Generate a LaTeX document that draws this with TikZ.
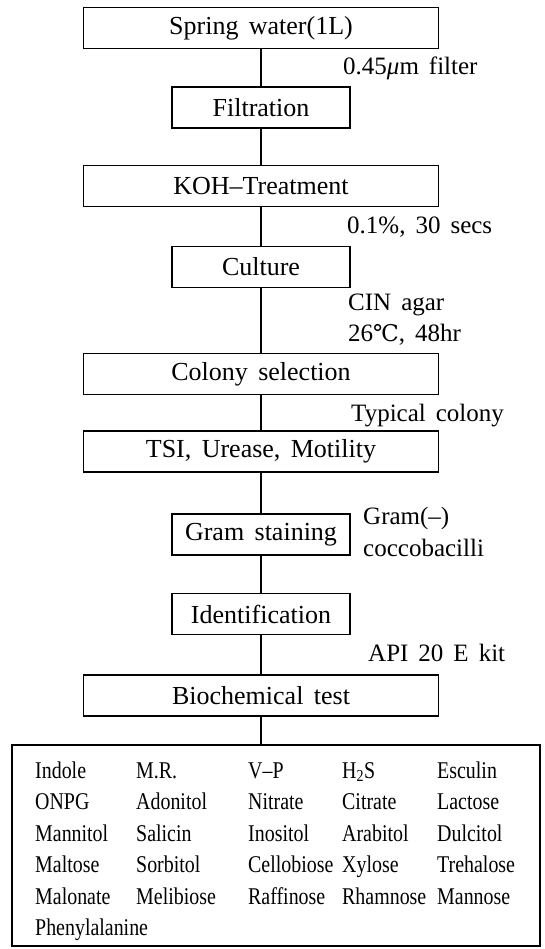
\documentclass[tikz,border=0pt]{standalone}
\usepackage{fontspec}
\setmainfont[WordSpace=1.6]{Liberation Serif}
\newfontfamily\condfont[FakeStretch=0.83]{Liberation Serif}
\newfontfamily\symfont{DejaVu Serif}
\newcommand\flowfont{\fontsize{26}{30}\selectfont}
\newcommand\sidefont{\fontsize{25}{29}\selectfont}
\newcommand\listfont{\condfont\fontsize{24}{28}\selectfont}

\tikzset{
  stepbox/.style={draw, line width=1.2pt, minimum height=41pt, inner sep=0pt, font=\flowfont},
  widebox/.style={stepbox, minimum width=355pt},
  narrowbox/.style={stepbox, minimum width=178pt},
  sidenote/.style={anchor=west, inner sep=0pt, font=\sidefont},
  testitem/.style={anchor=base west, inner sep=0pt, font=\listfont}
}

\begin{document}
\begin{tikzpicture}[x=1pt, y=-1pt]
  \useasboundingbox (0,0) rectangle (545,949);
  % main steps
  \node[widebox]   (spring) at (261,28)    {Spring water(1L)};
  \node[narrowbox] (filt)   at (261,107.5) {Filtration};
  \node[widebox]   (koh)    at (261,186)   {KOH–Treatment};
  \node[narrowbox] (cult)   at (261,267)   {Culture};
  \node[widebox]   (colony) at (261,374)   {Colony selection};
  \node[widebox]   (tsi)    at (261,451.5) {TSI, Urease, Motility};
  \node[narrowbox] (gram)   at (261,534.5) {Gram staining};
  \node[narrowbox] (ident)  at (261,614)   {Identification};
  \node[widebox]   (bio)    at (261,695.5) {Biochemical test};
  \node[draw, line width=1.2pt, minimum width=528pt, minimum height=201pt, inner sep=0pt] (tests) at (276,845.5) {};

  \foreach \a/\b in {spring/filt, filt/koh, koh/cult, cult/colony, colony/tsi, tsi/gram, gram/ident, ident/bio}
    \draw[line width=1.2pt] (\a.south) -- (\b.north);
  \draw[line width=1.2pt] (bio.south) -- (bio.south |- tests.north);

  % conditions
  \node[sidenote] (filter) at (343,68)  {0.45{\itshape μ}m filter};
  \node[sidenote] (koh1)   at (347,227) {0.1\%, 30 secs};
  \node[sidenote] (agar)   at (348,305) {CIN agar};
  \node[sidenote] (temp)   at (348,335) {26{\symfont\fontsize{23}{27}\selectfont ℃}, 48hr};
  \node[sidenote] (typic)  at (351,416) {Typical colony};
  \node[sidenote] (gneg)   at (363,518) {Gram(–)};
  \node[sidenote] (cocco)  at (363,548) {coccobacilli};
  \node[sidenote] (api)    at (368,653) {API 20 E kit};

  % test list
  \foreach \row [count=\rowi from 0] in {{Indole,M.R.,V–P,H\textsubscript{2}S,Esculin},
      {ONPG,Adonitol,Nitrate,Citrate,Lactose},
      {Mannitol,Salicin,Inositol,Arabitol,Dulcitol},
      {Maltose,Sorbitol,Cellobiose,Xylose,Trehalose},
      {Malonate,Melibiose,Raffinose,Rhamnose,Mannose},
      {Phenylalanine}}
    \foreach \name [count=\coli from 0] in \row {
      \pgfmathsetmacro\colx{{35,136,248,342,437}[\coli]}
      \node[testitem] (t\rowi\coli) at (\colx,778+31.5*\rowi) {\name};
    }
\end{tikzpicture}
\end{document}
